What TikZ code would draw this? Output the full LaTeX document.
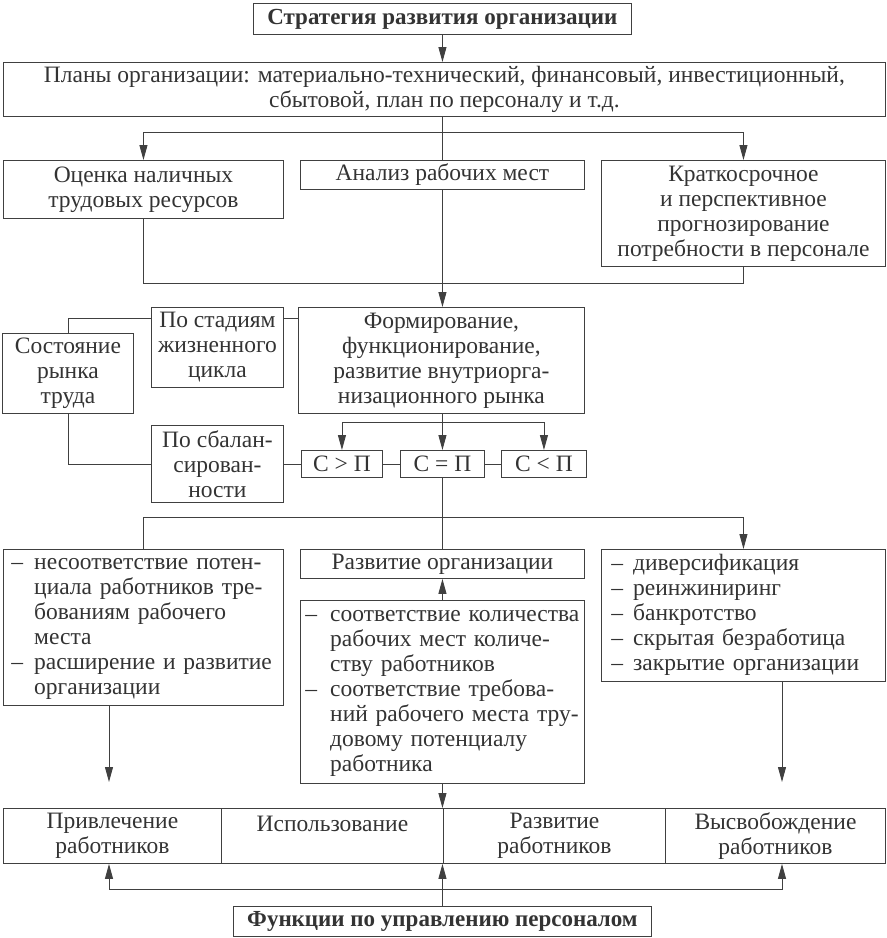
\documentclass[tikz,border=0pt]{standalone}
\usepackage{fontspec}
\setmainfont{Liberation Serif}
\usetikzlibrary{arrows.meta}
\begin{document}
\begin{tikzpicture}[x=1pt,y=-1pt,
  every node/.style={text=black!80, font=\fontsize{23.5}{25}\selectfont},
  box/.style={draw=black!75, line width=0.9pt, inner sep=0pt, anchor=north west, align=center},
  lst/.style={box, align=left},
  ln/.style={draw=black!75, line width=0.9pt},
  arr/.style={ln, -{Triangle[length=15pt,width=8pt]}}]
\useasboundingbox (0,0) rectangle (887,938);
% top
\node[box,minimum width=378pt,minimum height=31pt,font=\fontsize{23}{25}\selectfont\bfseries] (top) at (253,3) {Стратегия развития организации};
\node[box,minimum width=882pt,minimum height=54pt] (plans) at (3,62) {Планы организации: материально-технический, финансовый, инвестиционный,\\сбытовой, план по персоналу и т.д.};
\node[box,minimum width=280pt,minimum height=58pt] (ocenka) at (3,160) {Оценка наличных\\трудовых ресурсов};
\node[box,minimum width=284pt,minimum height=29pt] (analiz) at (300,160) {Анализ рабочих мест};
\node[box,minimum width=284pt,minimum height=106pt] (kratko) at (601,160) {Краткосрочное\\и перспективное\\прогнозирование\\потребности в персонале};
% middle
\node[box,minimum width=286pt,minimum height=106pt] (form) at (298,307) {Формирование,\\функционирование,\\развитие внутриорга-\\низационного рынка};
\node[box,minimum width=132pt,minimum height=80pt] (stadii) at (151,307) {По стадиям\\жизненного\\цикла};
\node[box,minimum width=131pt,minimum height=80pt] (sost) at (2,333) {Состояние\\рынка\\труда};
\node[box,minimum width=132pt,minimum height=77pt] (balans) at (151,425) {По сбалан-\\сирован-\\ности};
\node[box,minimum width=81pt,minimum height=27pt] (cgt) at (301,450) {С > П};
\node[box,minimum width=84pt,minimum height=27pt] (ceq) at (400,450) {С = П};
\node[box,minimum width=85pt,minimum height=27pt] (clt) at (501,450) {С < П};
% lower
\node[lst,text width=280pt,minimum height=156pt] (lbox) at (3,549) {\begin{tabular}{@{\hspace{8pt}}l@{\hspace{11pt}}l@{}}
– & несоответствие потен-\\ & циала работников тре-\\ & бованиям рабочего\\ & места\\
– & расширение и развитие\\ & организации\end{tabular}};
\node[box,minimum width=284pt,minimum height=29pt] (razv) at (300,549) {Развитие организации};
\node[lst,text width=284pt,minimum height=183pt] (mbox) at (300,600) {\begin{tabular}{@{\hspace{5pt}}l@{\hspace{13pt}}l@{}}
– & соответствие количества\\ & рабочих мест количе-\\ & ству работников\\
– & соответствие требова-\\ & ний рабочего места тру-\\ & довому потенциалу\\ & работника\end{tabular}};
\node[lst,text width=284pt,minimum height=132pt] (rbox) at (601,549) {\begin{tabular}{@{\hspace{10pt}}l@{\hspace{10pt}}l@{}}
– & диверсификация\\ – & реинжиниринг\\ – & банкротство\\ – & скрытая безработица\\ – & закрытие организации\end{tabular}};
% bar
\node[box,minimum width=218pt,minimum height=55pt] (c1) at (3,808) {Привлечение\\работников};
\node[box,minimum width=222pt,minimum height=55pt] (c2) at (221,808) {Использование\\\mbox{}};
\node[box,minimum width=222pt,minimum height=55pt] (c3) at (443,808) {Развитие\\работников};
\node[box,minimum width=220pt,minimum height=55pt] (c4) at (665,808) {Высвобождение\\работников};
\node[box,minimum width=418pt,minimum height=30pt,font=\fontsize{23}{25}\selectfont\bfseries] (func) at (233,906) {Функции по управлению персоналом};
% coordinates
\coordinate (j1) at (442,132);
\coordinate (j2) at (442,283);
\coordinate (j3) at (442,422);
\coordinate (j4) at (442,517);
\coordinate (j5) at (442,889);
\coordinate (al) at (109,782);
\coordinate (ar) at (782,782);
\coordinate (s1) at ([yshift=-11pt]stadii.north east);
\coordinate (s2) at ([yshift=-11pt]stadii.north west);
% connectors
\draw[arr] (top.south) -- (top.south |- plans.north);
\draw[ln] (analiz.north |- plans.south) -- (analiz.north);
\draw[arr] (j1) -| (ocenka.north);
\draw[arr] (j1) -| (kratko.north);
\draw[ln] (ocenka.south) |- (kratko.south |- j2) -- (kratko.south);
\draw[arr] (analiz.south) -- (analiz.south |- form.north);
\draw[ln] (s1) -- (s1 -| form.west);
\draw[ln] (s2) -| (sost.north);
\draw[ln] (sost.south) |- (balans.west);
\draw[ln] (balans.east) -- (cgt.west);
\draw[ln] (cgt.east) -- (ceq.west);
\draw[ln] (ceq.east) -- (clt.west);
\draw[arr] (ceq.north |- form.south) -- (ceq.north);
\draw[arr] (j3) -| (cgt.north);
\draw[arr] (j3) -| (clt.north);
\draw[ln] (ceq.south) -- (razv.north);
\draw[ln] (j4) -| (lbox.north);
\draw[arr] (j4) -| (rbox.north);
\draw[arr] (mbox.north) -- (razv.south);
\draw[arr] (al |- lbox.south) -- (al);
\draw[arr] (ar |- rbox.south) -- (ar);
\draw[arr] (mbox.south) -- (mbox.south |- c2.north);
\draw[arr] (func.north) -- (func.north |- c2.south);
\draw[arr] (j5) -| (al |- c1.south);
\draw[arr] (j5) -| (ar |- c4.south);
\end{tikzpicture}
\end{document}
